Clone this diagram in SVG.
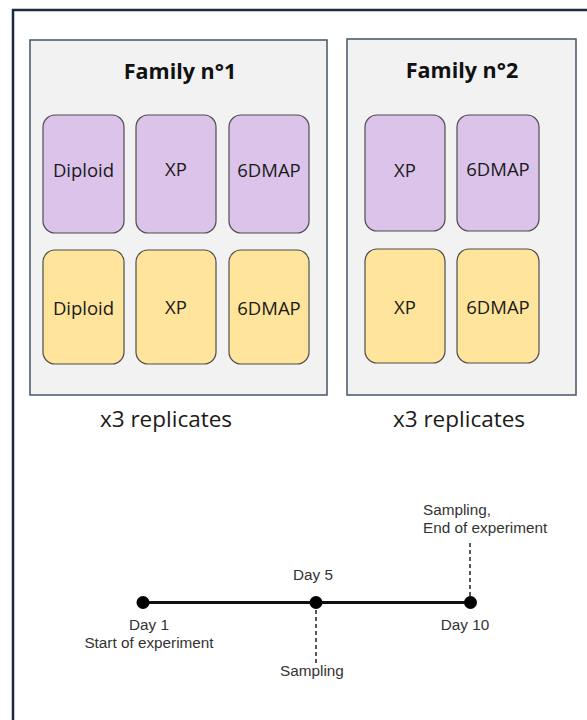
<svg xmlns="http://www.w3.org/2000/svg" width="587" height="720" viewBox="0 0 587 720">
  <style>
    .frame { fill: #ffffff; stroke: #1c2b3a; stroke-width: 2.5; }
    .family { fill: #f2f2f2; stroke: #44546a; stroke-width: 1.5; }
    .title { font-family: "Open Sans", "Liberation Sans", sans-serif; font-weight: bold; font-size: 21.5px; fill: #111; text-anchor: middle; }
    .cond { stroke: #4d4d4d; stroke-width: 1.2; }
    .purple { fill: #dcc3ea; }
    .yellow { fill: #fee59b; }
    .lbl { font-family: "Open Sans", "Liberation Sans", sans-serif; font-size: 18.5px; fill: #1a1a1a; text-anchor: middle; }
    .rep { font-family: "Open Sans", "Liberation Sans", sans-serif; font-size: 22.5px; fill: #1a1a1a; text-anchor: middle; }
    .tl { font-family: "Liberation Sans", Arial, sans-serif; font-size: 15.3px; fill: #333; }
    .mid { text-anchor: middle; }
    .axis { stroke: #111; stroke-width: 3; fill: none; }
    .dash { stroke: #222; stroke-width: 1.5; stroke-dasharray: 4 3; fill: none; }
    .dot { fill: #000; }
  </style>

  <!-- outer frame -->
  <rect class="frame" x="13" y="10" width="600" height="720"/>

  <!-- Family 1 -->
  <g id="family1">
    <rect class="family" x="30" y="40" width="297" height="355"/>
    <text class="title" x="180" y="79">Family n°1</text>
  </g>
  <g id="f1-diploid-a">
    <rect class="cond purple" x="43" y="115" width="81" height="118" rx="12"/>
    <text class="lbl" x="83.5" y="177">Diploid</text>
  </g>
  <g id="f1-xp-a">
    <rect class="cond purple" x="136" y="115" width="80" height="118" rx="12"/>
    <text class="lbl" x="176" y="176">XP</text>
  </g>
  <g id="f1-6dmap-a">
    <rect class="cond purple" x="229" y="115" width="80" height="118" rx="12"/>
    <text class="lbl" x="269" y="177">6DMAP</text>
  </g>
  <g id="f1-diploid-b">
    <rect class="cond yellow" x="43" y="250" width="81" height="114" rx="12"/>
    <text class="lbl" x="83.5" y="315">Diploid</text>
  </g>
  <g id="f1-xp-b">
    <rect class="cond yellow" x="136" y="250" width="80" height="114" rx="12"/>
    <text class="lbl" x="176" y="314">XP</text>
  </g>
  <g id="f1-6dmap-b">
    <rect class="cond yellow" x="229" y="250" width="80" height="114" rx="12"/>
    <text class="lbl" x="269" y="315">6DMAP</text>
  </g>
  <text class="rep" x="166" y="427">x3 replicates</text>

  <!-- Family 2 -->
  <g id="family2">
    <rect class="family" x="347" y="39" width="229" height="356"/>
    <text class="title" x="462" y="78">Family n°2</text>
  </g>
  <g id="f2-xp-a">
    <rect class="cond purple" x="365" y="115" width="80" height="116" rx="12"/>
    <text class="lbl" x="405" y="177">XP</text>
  </g>
  <g id="f2-6dmap-a">
    <rect class="cond purple" x="457" y="115" width="82" height="116" rx="12"/>
    <text class="lbl" x="498" y="176">6DMAP</text>
  </g>
  <g id="f2-xp-b">
    <rect class="cond yellow" x="365" y="249" width="80" height="114" rx="12"/>
    <text class="lbl" x="405" y="314">XP</text>
  </g>
  <g id="f2-6dmap-b">
    <rect class="cond yellow" x="457" y="249" width="82" height="114" rx="12"/>
    <text class="lbl" x="498" y="314">6DMAP</text>
  </g>
  <text class="rep" x="459" y="427">x3 replicates</text>

  <!-- timeline -->
  <g id="connectors">
    <line class="axis" x1="143" y1="602.5" x2="470" y2="602.5"/>
    <line class="dash" x1="316" y1="603" x2="316" y2="663"/>
    <line class="dash" x1="470" y1="543" x2="470" y2="602"/>
  </g>
  <g id="day1">
    <circle class="dot" cx="143" cy="602.5" r="6.5"/>
    <text class="tl mid" x="149" y="630">Day 1</text>
    <text class="tl mid" x="149" y="648">Start of experiment</text>
  </g>
  <g id="day5">
    <circle class="dot" cx="316" cy="602.5" r="6.5"/>
    <text class="tl mid" x="313" y="580">Day 5</text>
    <text class="tl mid" x="312" y="676">Sampling</text>
  </g>
  <g id="day10">
    <circle class="dot" cx="470.5" cy="602.5" r="6.5"/>
    <text class="tl mid" x="465" y="630">Day 10</text>
    <text class="tl" x="423" y="515">Sampling,</text>
    <text class="tl" x="423" y="533">End of experiment</text>
  </g>
</svg>
